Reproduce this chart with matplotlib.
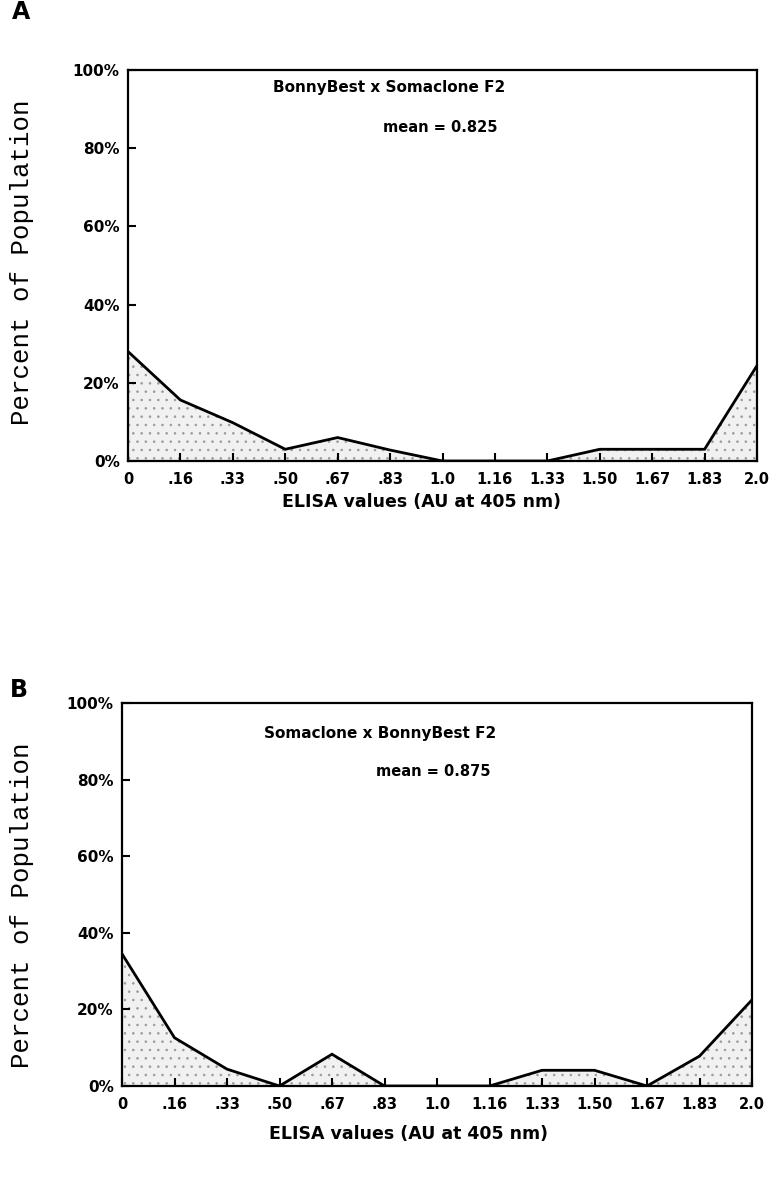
import matplotlib
matplotlib.use("Agg")
import matplotlib.pyplot as plt
import numpy as np

plt.rcParams['hatch.color'] = '#9a9a9a'
plt.rcParams['hatch.linewidth'] = 0.6

x_labels = ['0', '.16', '.33', '.50', '.67', '.83', '1.0', '1.16', '1.33', '1.50', '1.67', '1.83', '2.0']
y_ticks = [0, 20, 40, 60, 80, 100]
y_tick_labels = ['0%', '20%', '40%', '60%', '80%', '100%']

pct_a = [28, 15.6, 9.8, 3, 6, 2.8, 0, 0, 0, 3, 3, 3, 24.4]
pct_b = [34.5, 12.6, 4.4, 0, 8.3, 0, 0, 0, 4.1, 4.1, 0, 7.8, 22.5]

title_a = 'BonnyBest x Somaclone F2'
mean_a = 'mean = 0.825'
title_b = 'Somaclone x BonnyBest F2'
mean_b = 'mean = 0.875'
x_title = 'ELISA values (AU at 405 nm)'
y_title = 'Percent of Population'

W, H = 774, 1179
fig = plt.figure(figsize=(W / 100, H / 100), dpi=100)

def px_axes(l, t, r, b):
    return fig.add_axes([l / W, 1 - b / H, (r - l) / W, (b - t) / H])

def panel(ax, vals, title, mean, tpos, mpos, xlab_px, ylab_px):
    xs = np.arange(len(x_labels))
    ax.fill_between(xs, 0, vals, facecolor='#f1f1f1', edgecolor='none', hatch='..', linewidth=0)
    ax.plot(xs, vals, color='black', lw=2.0, solid_joinstyle='miter')
    ax.set_xlim(0, len(x_labels) - 1)
    ax.set_ylim(0, 100)
    ax.set_xticks(xs)
    ax.set_xticklabels(x_labels)
    ax.set_yticks(y_ticks)
    ax.set_yticklabels(y_tick_labels)
    for lab in ax.get_xticklabels() + ax.get_yticklabels():
        lab.set_fontfamily('DejaVu Sans')
        lab.set_fontweight('heavy')
    ax.tick_params(axis='x', direction='in', length=6, width=1.5, pad=8, labelsize=10.5)
    ax.tick_params(axis='y', direction='in', length=6, width=1.5, pad=6, labelsize=11)
    for s in ax.spines.values():
        s.set_linewidth(1.6)
    fig.text(xlab_px[0] / W, 1 - xlab_px[1] / H, x_title, ha='center', va='center',
             fontfamily='DejaVu Sans', fontweight='bold', fontsize=12.5)
    fig.text(ylab_px[0] / W, 1 - ylab_px[1] / H, y_title, ha='center', va='center',
             rotation=90, fontfamily='Liberation Mono', fontsize=18.5)
    ax.text(tpos[0], tpos[1], title, transform=ax.transAxes, ha='center', va='center',
            fontfamily='DejaVu Sans', fontweight='bold', fontsize=11)
    ax.text(mpos[0], mpos[1], mean, transform=ax.transAxes, ha='center', va='center',
            fontfamily='DejaVu Sans', fontweight='bold', fontsize=10.5)

ax_a = px_axes(128, 70, 757, 461)
panel(ax_a, pct_a, title_a, mean_a, (0.415, 0.956), (0.497, 0.854), (421, 502), (22, 262))
ax_b = px_axes(122, 703, 752, 1086)
panel(ax_b, pct_b, title_b, mean_b, (0.41, 0.92), (0.494, 0.822), (408, 1134), (22, 905))

fig.text(12 / W, 1 - 12 / H, 'A', fontfamily='DejaVu Sans', fontweight='bold', fontsize=17,
         ha='left', va='center')
fig.text(10 / W, 1 - 690 / H, 'B', fontfamily='DejaVu Sans', fontweight='bold', fontsize=17,
         ha='left', va='center')

fig.savefig('out.png', dpi=100)
